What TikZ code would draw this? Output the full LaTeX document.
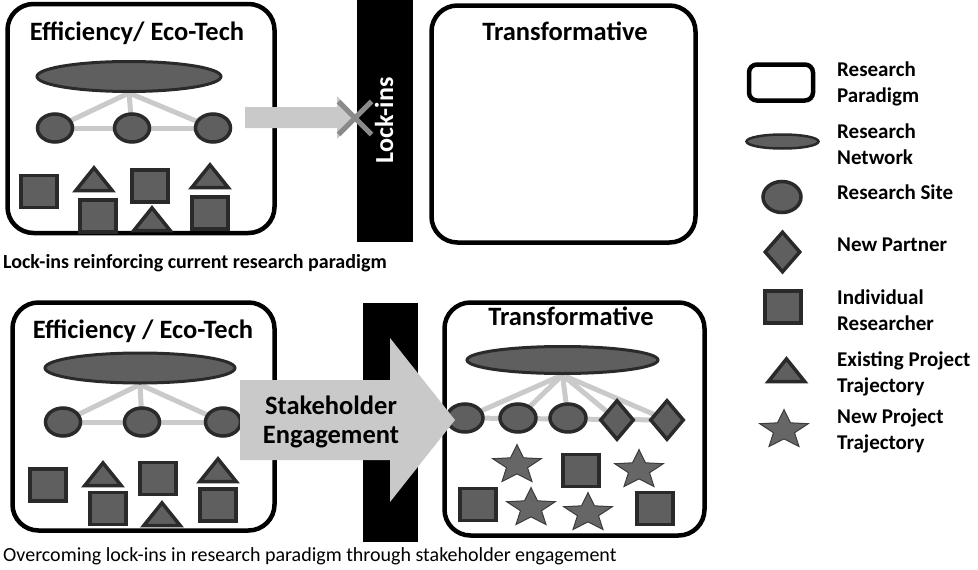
\documentclass[tikz,border=0pt]{standalone}
\usepackage{fontspec}
\setmainfont{Carlito}
\usetikzlibrary{shapes.geometric,shapes.misc,backgrounds}
\definecolor{shapefill}{HTML}{5F5F5F}
\definecolor{shapeedge}{HTML}{2A2A2A}
\definecolor{starfill}{HTML}{666666}
\definecolor{staredge}{HTML}{3C3C3C}
\definecolor{linkgray}{HTML}{CACACA}
\definecolor{arrowgray}{HTML}{C9C9C9}
\definecolor{xgray}{HTML}{8A8A8A}
\tikzset{
 paradigm/.style={draw=black, line width=4.5pt, rounded corners=26pt, inner sep=0pt},
 legparadigm/.style={draw=black, line width=4.5pt, rounded corners=8pt, inner sep=0pt, minimum width=64pt, minimum height=36pt},
 shp/.style={draw=shapeedge, fill=shapefill, line width=3.5pt, inner sep=0pt},
 netw/.style={shp, ellipse, line width=3pt},
 site/.style={shp, ellipse, minimum width=35pt, minimum height=28pt},
 partner/.style={shp, diamond, minimum width=34pt, minimum height=40pt},
 researcher/.style={shp, rectangle, minimum width=36pt, minimum height=32pt},
 oldtraj/.style={shp, regular polygon, regular polygon sides=3, minimum size=42pt, yscale=0.72},
 newtraj/.style={star, star points=5, star point ratio=2.3, draw=staredge, fill=starfill, line width=1pt, inner sep=0pt, minimum size=51pt, yscale=0.8},
 link/.style={draw=linkgray, line width=5pt},
 titletext/.style={font=\bfseries\fontsize{26.5}{28}\selectfont, anchor=base, inner sep=0pt},
 legtext/.style={font=\bfseries\fontsize{21}{26}\selectfont, anchor=west, align=left, inner sep=0pt},
 captiontext/.style={font=\fontsize{20}{24}\selectfont, anchor=base west, inner sep=0pt},
 barstyle/.style={fill=black, draw=none},
 bigarrow/.style={fill=arrowgray, draw=none},
 crossmark/.style={cross out, draw=xgray, line width=5pt, inner sep=0pt, minimum size=28pt},
}
\begin{document}
\begin{tikzpicture}[x=1pt,y=-1pt]
\useasboundingbox (0,0) rectangle (978,570);

% ---------- TOP ROW ----------
\node[paradigm, minimum width=267pt, minimum height=229pt] (tlbox) at (141,118.5) {};
\node[titletext] (tltitle) at (137,40) {Efficiency/ Eco-Tech};
\node[netw, minimum width=184pt, minimum height=30pt] (tlnet) at (129,76.5) {};
\node[site] (tls1) at (55,128) {};
\node[site] (tls2) at (132,128) {};
\node[site] (tls3) at (213,128) {};
\node[researcher] (tlr1) at (39,191.5) {};
\node[oldtraj] (tlt1) at (94,183) {};
\node[researcher] (tlr2) at (98,216) {};
\node[researcher] (tlr3) at (150,186) {};
\node[oldtraj] (tlt2) at (152,223) {};
\node[oldtraj] (tlt3) at (210,180) {};
\node[researcher] (tlr4) at (210,213) {};
\begin{scope}[on background layer]
 \draw[link] (tlnet.south) -- (tls1.center);
 \draw[link] (tlnet.south) -- (tls2.center);
 \draw[link] (tlnet.south) -- (tls3.center);
 \draw[link] (tls1.center) -- (tls3.center);
\end{scope}

\coordinate (ta1) at (245,107);
\coordinate (ta2) at (337,107);
\coordinate (ta3) at (337,96);
\coordinate (ta4) at (357,117.5);
\coordinate (ta5) at (337,139);
\coordinate (ta6) at (337,128);
\coordinate (ta7) at (245,128);
\fill[bigarrow] (ta1) -- (ta2) -- (ta3) -- (ta4) -- (ta5) -- (ta6) -- (ta7) -- cycle;

\node[barstyle, minimum width=56pt, minimum height=242pt, inner sep=0pt] (topbar) at (385,121) {};
\node[rotate=90, anchor=base, inner sep=0pt, text=white, font=\bfseries\fontsize{26}{28}\selectfont] (locklabel) at (393,120.5) {Lock-ins};
\node[crossmark] (lockx) at (355,118) {};

\node[paradigm, minimum width=264pt, minimum height=237pt] (trbox) at (563.5,124) {};
\node[titletext] (trtitle) at (565,40) {Transformative};

\node[captiontext, font=\bfseries\fontsize{20}{24}\selectfont] (cap1) at (3,268) {Lock-ins reinforcing current research paradigm};

% ---------- BOTTOM ROW ----------
\node[paradigm, minimum width=262pt, minimum height=228pt] (blbox) at (143.5,416.5) {};
\node[titletext] (bltitle) at (143,338) {Efficiency / Eco-Tech};
\node[netw, minimum width=190pt, minimum height=30pt] (blnet) at (140,368) {};
\node[site] (bls1) at (63,422) {};
\node[site] (bls2) at (142,422) {};
\node[site] (bls3) at (223,422) {};
\node[researcher] (blr1) at (48,485) {};
\node[oldtraj] (blt1) at (103,478) {};
\node[researcher] (blr2) at (108,508.5) {};
\node[researcher] (blr3) at (158,478.5) {};
\node[oldtraj] (blt2) at (162,518) {};
\node[oldtraj] (blt3) at (218,474) {};
\node[researcher] (blr4) at (218,505) {};
\begin{scope}[on background layer]
 \draw[link] (blnet.south) -- (bls1.center);
 \draw[link] (blnet.south) -- (bls2.center);
 \draw[link] (blnet.south) -- (bls3.center);
 \draw[link] (bls1.center) -- (bls3.center);
\end{scope}

\node[barstyle, minimum width=55pt, minimum height=239pt, inner sep=0pt] (botbar) at (390.5,422.5) {};

\node[paradigm, minimum width=260pt, minimum height=233pt] (brbox) at (574.5,419) {};
\node[titletext] (brtitle) at (571,325) {Transformative};
\node[netw, minimum width=191pt, minimum height=27pt] (brnet) at (562.5,360) {};
\node[site, minimum width=36pt] (brs1) at (465,418) {};
\node[site, minimum width=36pt] (brs2) at (518,418) {};
\node[site, minimum width=36pt] (brs3) at (568,418) {};
\node[partner] (brp1) at (617,420) {};
\node[partner] (brp2) at (667,420) {};
\node[newtraj] (brn1) at (517,465) {};
\node[newtraj] (brn2) at (639,470) {};
\node[newtraj] (brn3) at (531,508) {};
\node[newtraj] (brn4) at (588,513) {};
\node[researcher] (brr1) at (581,470.5) {};
\node[researcher] (brr2) at (478,504.5) {};
\node[researcher] (brr3) at (655,508.5) {};
\begin{scope}[on background layer]
 \draw[link] (brnet.south) -- (brs1.center);
 \draw[link] (brnet.south) -- (brs2.center);
 \draw[link] (brnet.south) -- (brs3.center);
 \draw[link] (brnet.south) -- (brp1.center);
 \draw[link] (brnet.south) -- (brp2.center);
 \draw[link] (brs1.center) -- (brp2.center);
\end{scope}

\coordinate (ba1) at (240,380);
\coordinate (ba2) at (390,380);
\coordinate (ba3) at (390,338);
\coordinate (ba4) at (455,420);
\coordinate (ba5) at (390,502);
\coordinate (ba6) at (390,460);
\coordinate (ba7) at (240,460);
\fill[bigarrow] (ba1) -- (ba2) -- (ba3) -- (ba4) -- (ba5) -- (ba6) -- (ba7) -- cycle;
\node[titletext] (stake1) at (331,414) {Stakeholder};
\node[titletext] (stake2) at (331,443) {Engagement};

\node[captiontext] (cap2) at (3,561) {Overcoming lock-ins in research paradigm through stakeholder engagement};

% ---------- LEGEND ----------
\node[legparadigm] (lgpar) at (781,82.5) {};
\node[legtext] (lgpart) at (837,83.5) {Research\\Paradigm};
\node[netw, line width=2.5pt, minimum width=72pt, minimum height=14pt] (lgnet) at (782.5,141.5) {};
\node[legtext] (lgnett) at (837,144) {Research\\Network};
\node[site, minimum width=38pt, minimum height=31pt] (lgsite) at (782,197) {};
\node[legtext] (lgsitet) at (837,192) {Research Site};
\node[partner, minimum width=36pt, minimum height=41pt] (lgpartner) at (782.5,252) {};
\node[legtext] (lgpartnert) at (837,245) {New Partner};
\node[researcher] (lgres) at (783,307) {};
\node[legtext] (lgrest) at (837,310) {Individual\\Researcher};
\node[oldtraj] (lgold) at (786.5,374) {};
\node[legtext] (lgoldt) at (837,373.5) {Existing Project\\Trajectory};
\node[newtraj] (lgnew) at (784,430) {};
\node[legtext] (lgnewt) at (837,430.5) {New Project\\Trajectory};
\end{tikzpicture}
\end{document}
